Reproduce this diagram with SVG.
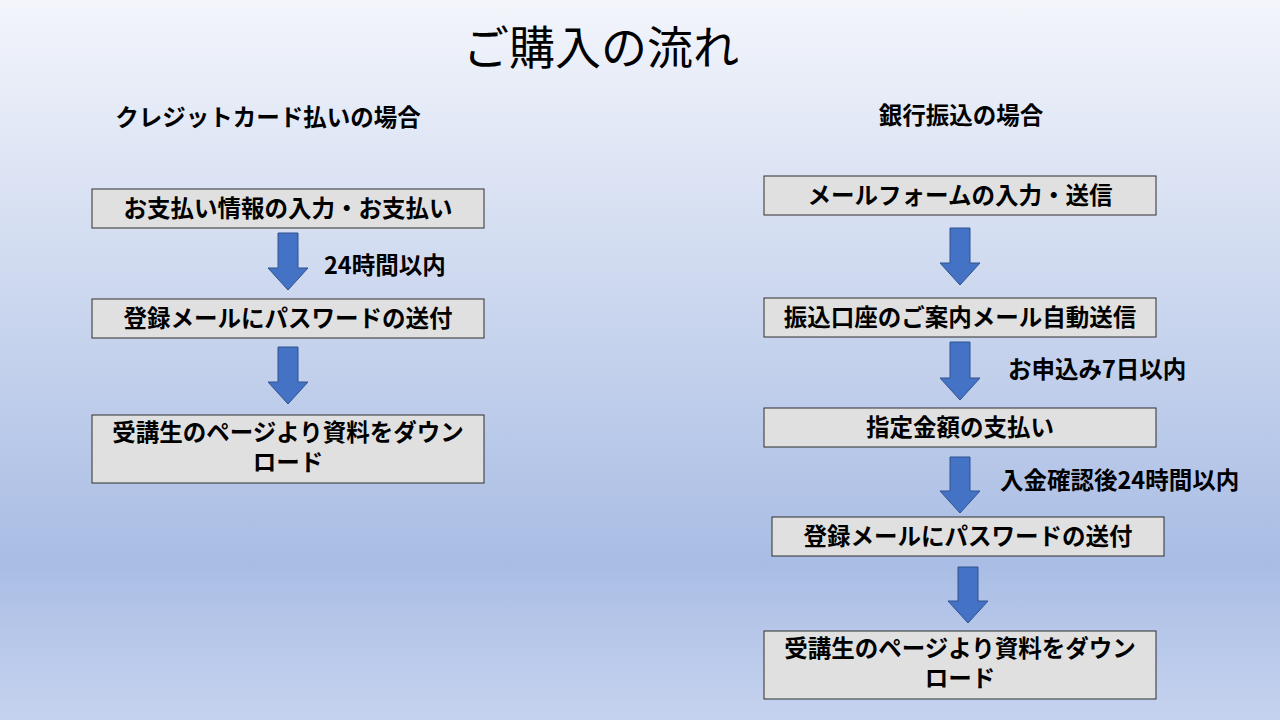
<svg xmlns="http://www.w3.org/2000/svg" width="1280" height="720" viewBox="0 0 1280 720">
<defs>
<linearGradient id="bg" x1="0" y1="0" x2="0" y2="1">
<stop offset="0" stop-color="#f3f5fb"/>
<stop offset="0.78" stop-color="#a9bde4"/>
<stop offset="1" stop-color="#c6d3ef"/>
</linearGradient>
<style>
.box{fill:#e0e0e0;stroke:#2f2f2f;stroke-width:1}
.arr{fill:#4472c4;stroke:#2f528f;stroke-width:1}
text{font-family:"Noto Sans CJK JP","Noto Sans",sans-serif;fill:#000}
.t{font-size:23.5px;font-weight:bold;text-anchor:middle}
.l{font-size:23.5px;font-weight:bold}
</style>
</defs>
<rect width="1280" height="720" fill="url(#bg)"/>
<text x="601" y="64" font-size="46" text-anchor="middle">ご購入の流れ</text>
<text class="t" x="268" y="126">クレジットカード払いの場合</text>
<text class="t" x="961" y="124">銀行振込の場合</text>
<g id="connectors">
<path class="arr" d="M278,233H298V268H308L288,290L268,268H278Z"/>
<path class="arr" d="M278,347H298V382H308L288,404L268,382H278Z"/>
<path class="arr" d="M950,228H970V263H980L960,285L940,263H950Z"/>
<path class="arr" d="M950,342H970V378H980L960,400L940,378H950Z"/>
<path class="arr" d="M950,457H970V491H980L960,513L940,491H950Z"/>
<path class="arr" d="M958,567H978V601H988L968,623L948,601H958Z"/>
<text class="l" x="324" y="274">24時間以内</text>
<text class="l" x="1008" y="378">お申込み7日以内</text>
<text class="l" x="1000" y="489">入金確認後24時間以内</text>
</g>
<g id="L1"><rect class="box" x="92" y="189" width="392" height="39"/><text class="t" x="288" y="217">お支払い情報の入力・お支払い</text></g>
<g id="L2"><rect class="box" x="92" y="299" width="392" height="39"/><text class="t" x="288" y="327">登録メールにパスワードの送付</text></g>
<g id="L3"><rect class="box" x="92" y="415" width="392" height="68"/><text class="t" x="288" y="441">受講生のページより資料をダウン</text><text class="t" x="288" y="471">ロード</text></g>
<g id="R1"><rect class="box" x="764" y="176" width="392" height="39"/><text class="t" x="960" y="204">メールフォームの入力・送信</text></g>
<g id="R2"><rect class="box" x="764" y="298" width="392" height="39"/><text class="t" x="960" y="326">振込口座のご案内メール自動送信</text></g>
<g id="R3"><rect class="box" x="764" y="408" width="392" height="39"/><text class="t" x="960" y="436">指定金額の支払い</text></g>
<g id="R4"><rect class="box" x="772" y="517" width="392" height="39"/><text class="t" x="968" y="545">登録メールにパスワードの送付</text></g>
<g id="R5"><rect class="box" x="764" y="631" width="392" height="68"/><text class="t" x="960" y="657">受講生のページより資料をダウン</text><text class="t" x="960" y="687">ロード</text></g>
</svg>
